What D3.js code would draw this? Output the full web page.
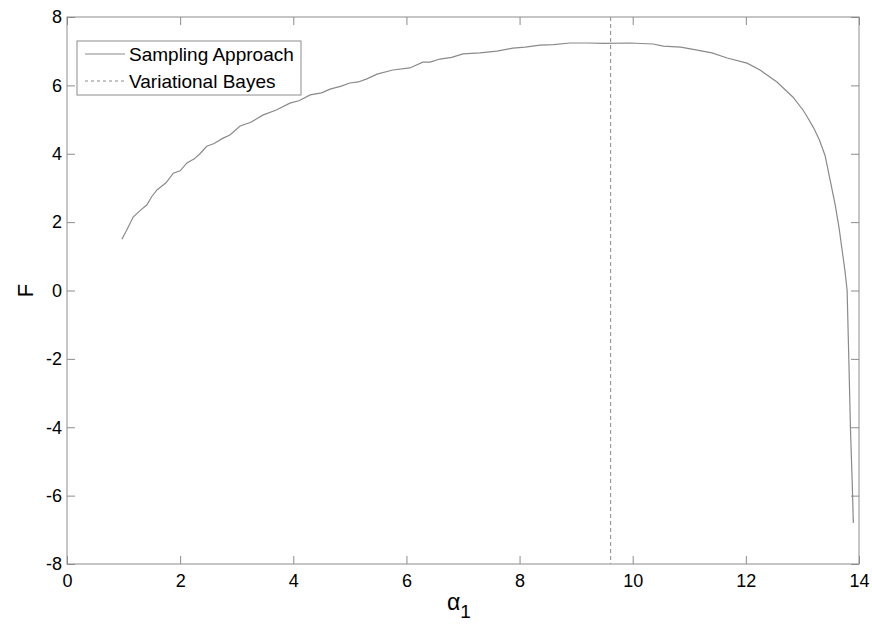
<!DOCTYPE html>
<html>
<head>
<meta charset="utf-8">
<script src="https://cdn.jsdelivr.net/npm/d3@7"></script>
<style>
  body { margin: 0; background: #fff; }
  text { font-family: "Liberation Sans", Arial, sans-serif; }
</style>
</head>
<body>
<div id="chart"></div>
<script>
// data
var alpha = [0.97, 1.05, 1.17, 1.3, 1.41, 1.5, 1.59, 1.75, 1.88, 2.0, 2.12, 2.25, 2.35, 2.47, 2.6, 2.75, 2.88, 3.06, 3.25, 3.46, 3.7, 3.94, 4.1, 4.3, 4.5, 4.65, 4.85, 5.0, 5.15, 5.3, 5.48, 5.76, 6.06, 6.29, 6.42, 6.59, 6.8, 7.0, 7.3, 7.6, 7.88, 8.1, 8.36, 8.6, 8.89, 9.19, 9.5, 9.95, 10.36, 10.54, 10.85, 11.14, 11.4, 11.67, 12.02, 12.25, 12.55, 12.83, 13.01, 13.1, 13.2, 13.3, 13.4, 13.49, 13.58, 13.65, 13.7, 13.75, 13.79, 13.82, 13.85, 13.88, 13.9];
var F = [1.5, 1.75, 2.15, 2.35, 2.5, 2.75, 2.94, 3.15, 3.43, 3.5, 3.73, 3.85, 4.0, 4.22, 4.3, 4.45, 4.55, 4.81, 4.92, 5.13, 5.28, 5.48, 5.55, 5.72, 5.78, 5.89, 5.98, 6.07, 6.1, 6.19, 6.33, 6.45, 6.51, 6.68, 6.68, 6.77, 6.82, 6.92, 6.95, 7.0, 7.09, 7.12, 7.18, 7.19, 7.24, 7.24, 7.23, 7.24, 7.21, 7.15, 7.12, 7.03, 6.95, 6.8, 6.65, 6.45, 6.1, 5.66, 5.28, 5.04, 4.75, 4.4, 3.95, 3.23, 2.5, 1.8, 1.2, 0.6, 0.0, -2.0, -4.1, -5.6, -6.8];
var vbAlpha = 9.61;
var xTicks = [0, 2, 4, 6, 8, 10, 12, 14];
var yTicks = [-8, -6, -4, -2, 0, 2, 4, 6, 8];
var seriesNames = ["Sampling Approach", "Variational Bayes"];

var margin = { top: 17, right: 13, bottom: 63, left: 67 },
  width = 872 - margin.left - margin.right,
  height = 627 - margin.top - margin.bottom;

var x = d3.scaleLinear().domain([0, 14]).range([0, width]);
var y = d3.scaleLinear().domain([-8, 8]).range([height, 0]);

var svg = d3.select("#chart").append("svg")
  .attr("width", 872)
  .attr("height", 627)
  .append("g")
  .attr("transform", "translate(" + margin.left + "," + margin.top + ")");

var axisColor = "#8c8c8c";
var plain = function (d) { return String(d); }; // hyphen minus like the original

// box
svg.append("rect")
  .attr("width", width).attr("height", height)
  .attr("fill", "none").attr("stroke", axisColor).attr("stroke-width", 1);

function styleAxis(g, showText) {
  g.select(".domain").remove();
  g.selectAll(".tick line").attr("stroke", axisColor);
  g.selectAll(".tick text").attr("fill", "#000").style("font-size", "18px");
  if (!showText) g.selectAll(".tick text").remove();
}

svg.append("g")
  .attr("transform", "translate(0," + height + ")")
  .call(d3.axisBottom(x).tickValues(xTicks).tickFormat(plain).tickSize(-8).tickPadding(6))
  .call(function (g) { styleAxis(g, true); g.selectAll(".tick text").attr("dy", "0.95em"); });
svg.append("g")
  .call(d3.axisTop(x).tickValues(xTicks).tickSize(-8))
  .call(function (g) { styleAxis(g, false); });
svg.append("g")
  .call(d3.axisLeft(y).tickValues(yTicks).tickFormat(plain).tickSize(-8).tickPadding(5))
  .call(function (g) { styleAxis(g, true); });
svg.append("g")
  .attr("transform", "translate(" + width + ",0)")
  .call(d3.axisRight(y).tickValues(yTicks).tickSize(-8))
  .call(function (g) { styleAxis(g, false); });

var data = alpha.map(function (a, i) { return { a: a, f: F[i] }; });

var line = d3.line()
  .x(function (d) { return x(d.a); })
  .y(function (d) { return y(d.f); });

svg.append("path")
  .datum(data)
  .attr("fill", "none")
  .attr("stroke", "#8a8a8a")
  .attr("stroke-width", 1.2)
  .attr("d", line);

svg.append("line")
  .attr("x1", x(vbAlpha)).attr("x2", x(vbAlpha))
  .attr("y1", y(8)).attr("y2", y(-8))
  .attr("stroke", "#8a8a8a")
  .attr("stroke-width", 1)
  .attr("stroke-dasharray", "4,3");

// legend
var lg = svg.append("g").attr("transform", "translate(" + (77 - margin.left) + "," + (41 - margin.top) + ")");
lg.append("rect")
  .attr("width", 224).attr("height", 54)
  .attr("fill", "#fff").attr("stroke", axisColor);
seriesNames.forEach(function (name, i) {
  var ly = 13 + i * 27;
  lg.append("line")
    .attr("x1", 8).attr("x2", 48).attr("y1", ly).attr("y2", ly)
    .attr("stroke", "#8a8a8a").attr("stroke-width", 1)
    .attr("stroke-dasharray", i === 1 ? "3,3" : null);
  lg.append("text")
    .attr("x", 52).attr("y", ly).attr("dy", "0.36em")
    .style("font-size", "19px").attr("fill", "#000")
    .text(name);
});

// axis labels
svg.append("text")
  .attr("transform", "translate(" + (25 - margin.left) + "," + y(0) + ") rotate(-90)")
  .attr("text-anchor", "middle").attr("dy", "0.36em")
  .style("font-size", "22px")
  .text("F");

var xl = svg.append("text")
  .attr("x", x(7) - 4).attr("y", 610 - margin.top)
  .attr("text-anchor", "middle")
  .style("font-size", "23px");
xl.append("tspan").text("α");
xl.append("tspan").attr("dy", 8).style("font-size", "19px").text("1");
</script>
</body>
</html>
